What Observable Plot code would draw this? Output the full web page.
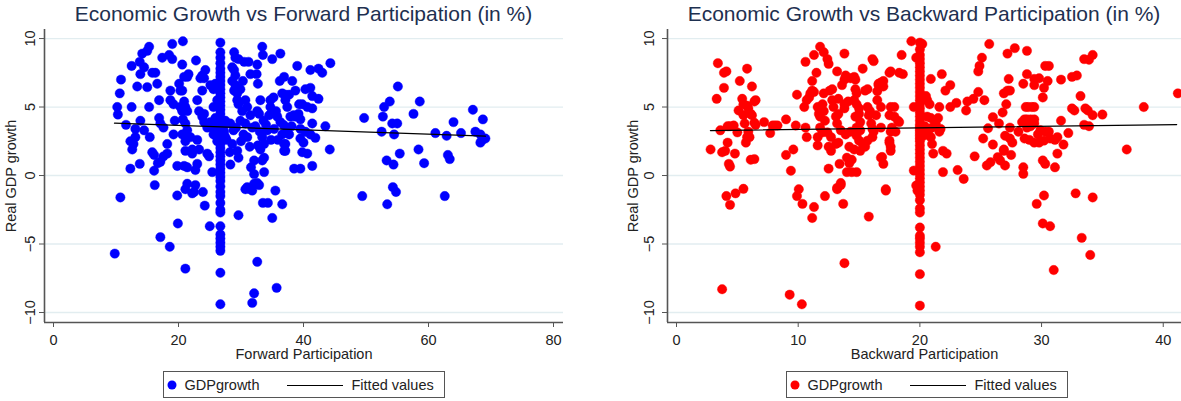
<!DOCTYPE html>
<html><head><meta charset="utf-8">
<script src="https://cdn.jsdelivr.net/npm/d3@7"></script>
<script src="https://cdn.jsdelivr.net/npm/@observablehq/plot@0.6"></script>
<style>
body{margin:0;background:#fff;font-family:"Liberation Sans",Arial,sans-serif;}
#root{position:relative;width:1181px;height:401px;overflow:hidden;background:#fff;}
.panel{position:absolute;top:0;height:401px;}
.panel svg{position:absolute;left:0;top:0;}
.title{position:absolute;top:4px;font-size:21px;line-height:20px;color:#1e3050;white-space:nowrap;transform:translateX(-50%);}
.legend{position:absolute;top:371px;width:282px;height:27px;border:1.5px solid #555;box-sizing:border-box;background:#fff;font-size:14.5px;color:#222;}
.legend .dot{position:absolute;top:50%;width:9px;height:9px;border-radius:50%;transform:translate(-50%,-50%);}
.legend .lab{position:absolute;top:50%;transform:translateY(-50%);white-space:nowrap;line-height:16px;}
.legend .ln{position:absolute;top:50%;height:0;border-top:1.3px solid #000;}
</style>
</head><body><div id="root"></div>
<script>
// ---------- data ----------
const growthTicks = [-10, -5, 0, 5, 10];
const forwardTicks = [0, 20, 40, 60, 80];
const backwardTicks = [0, 10, 20, 30, 40];
const growthDomain = [-10.73, 10.66];
const forwardDomain = [-1.44, 81.6];
const backwardDomain = [-0.74, 41.5];

const forwardTitle = "Economic Growth vs Forward Participation (in %)";
const backwardTitle = "Economic Growth vs Backward Participation (in %)";
const yTitle = "Real GDP growth";
const forwardLabel = "Forward Participation";
const backwardLabel = "Backward Participation";
const legendLabels = ["GDPgrowth", "Fitted values"];

// forward participation (x) vs GDP growth (y)
const forwardPoints = [
[10.2,5.0],[10.3,4.45],[10.8,7.0],[10.6,6.0],[11.6,3.7],[12.5,8.0],[12.5,5.0],[12.3,2.5],[12.8,2.3],[13.1,2.8],[12.6,1.9],[12.3,0.5],
[13.4,6.5],[13.8,8.3],[14.2,8.9],[15.0,9.1],[15.3,9.4],[13.9,7.4],[14.5,7.9],[13.1,3.4],[13.9,4.0],[14.5,3.3],[13.8,0.85],[15.0,6.45],
[15.3,5.0],[15.4,2.8],[15.8,7.5],[16.3,7.5],[16.1,1.5],[15.8,1.7],[16.1,0.35],[16.2,-0.7],[16.6,6.7],[16.9,5.5],[16.9,4.2],[17.1,3.8],
[17.4,8.6],[17.6,3.5],[16.7,0.9],[17.1,1.0],[17.6,1.4],[18.2,1.6],[18.2,2.3],[18.5,8.8],[19.0,8.5],[18.7,6.2],[19.0,9.6],[18.7,5.5],
[19.2,5.2],[19.2,3.0],[19.4,4.0],[19.8,0.7],[20.1,6.7],[20.3,6.2],[20.6,6.2],[20.3,5.0],[20.6,4.7],[20.7,9.8],[20.6,8.1],[20.9,7.2],
[21.4,7.2],[21.6,7.4],[20.9,5.4],[21.1,5.0],[21.4,4.7],[20.7,4.1],[21.1,3.8],[21.4,3.3],[20.6,3.0],[21.1,2.5],[21.1,1.8],[20.9,0.7],
[21.4,0.6],[21.4,-0.6],[21.9,2.8],[22.2,1.9],[22.7,0.4],[22.2,1.6],[22.7,-0.7],[22.5,-1.2],[22.8,8.4],[23.0,5.5],[23.3,4.7],[23.0,2.6],
[23.3,1.9],[23.0,0.85],[23.5,7.1],[23.8,7.3],[24.1,7.1],[24.3,7.7],[23.8,6.2],[23.8,4.3],[24.1,4.5],[24.1,3.9],[24.6,3.5],[25.1,3.9],
[24.6,1.6],[24.9,1.4],[25.4,3.5],[25.6,3.0],[25.9,4.2],[25.6,5.0],[26.2,5.5],[25.4,0.25],[25.6,6.3],[25.9,6.7],[25.1,6.6],
[26.7,9.7],[26.7,9.0],[26.7,8.6],[26.7,8.2],[26.7,7.8],[26.7,7.5],[26.7,7.2],[26.7,6.9],[26.7,6.6],[26.7,6.3],[26.7,6.0],[26.7,5.7],
[26.7,5.4],[26.7,5.1],[26.7,4.8],[26.7,4.5],[26.7,4.2],[26.7,3.9],[26.7,3.6],[26.7,3.4],[26.7,3.2],[26.7,3.0],[26.7,2.8],[26.7,2.6],
[26.7,2.3],[26.7,2.0],[26.7,1.7],[26.7,1.4],[26.7,1.1],[26.7,0.8],[26.7,0.5],[26.7,0.2],[26.7,-0.1],[26.7,-0.4],[26.7,-0.8],[26.7,-1.2],
[26.7,-1.5],[26.7,-2.0],[26.7,-2.5],[26.7,-2.7],[26.7,-3.7],[26.7,-4.3],[26.7,-4.6],[26.7,-4.9],[26.7,-5.2],[26.7,-5.5],[26.7,-7.1],[26.7,-9.4],
[25.8,3.3],[26.0,2.9],[27.3,3.2],[27.5,2.8],[27.2,3.6],[26.2,2.5],[27.7,2.6],[25.9,3.8],[27.5,4.0],
[28.3,3.8],[28.8,3.3],[28.6,2.3],[28.2,1.7],[28.3,0.8],[28.9,9.0],[29.1,8.6],[29.6,8.5],[28.6,7.9],[28.9,7.7],[29.1,7.3],[28.6,6.9],
[29.1,6.6],[28.9,6.2],[29.4,6.0],[29.4,5.5],[29.6,5.2],[30.2,4.7],[29.4,1.8],[29.6,1.3],[29.9,6.3],[30.3,6.9],[30.5,8.3],[31.2,8.3],
[30.7,5.5],[31.0,5.0],[29.9,4.0],[30.7,3.8],[31.0,2.8],[31.4,2.1],[31.5,7.4],[31.0,-0.85],[30.7,-1.0],[31.6,0.6],[32.1,0.1],[32.1,1.1],
[32.1,-0.6],[32.6,-0.55],[32.9,-0.7],[32.6,8.1],[32.7,6.7],[32.5,7.4],[32.6,4.7],[32.9,4.5],[33.1,5.5],[33.4,9.4],[33.5,8.8],[33.4,2.8],
[33.7,2.3],[33.1,1.9],[33.4,1.1],[33.7,1.3],[33.7,0.25],[34.2,3.3],[34.5,4.4],[34.7,5.0],[34.7,5.5],[35.2,5.7],[35.0,8.5],[35.5,-1.1],
[35.8,4.3],[36.3,3.9],[36.2,6.9],[36.3,8.9],[36.6,6.0],[36.9,7.2],[36.6,3.0],[36.9,2.3],[37.1,1.8],[37.1,5.5],[37.4,5.0],[37.4,3.5],
[37.9,4.3],[38.2,6.9],[38.7,6.2],[38.4,4.4],[39.0,8.0],[39.3,5.2],[38.5,0.5],[39.5,0.5],
[32.3,3.6],[33.0,3.2],[34.0,3.7],[35.3,3.4],[35.9,2.6],[36.8,3.7],[37.7,3.0],[38.1,3.6],[33.6,4.0],[31.8,3.5],[30.4,3.0],[29.2,3.5],
[30.0,2.5],[31.5,4.4],[34.8,2.6],[35.6,4.7],[32.7,2.2],
[41.1,7.7],[42.4,7.8],[43.0,7.5],[44.3,8.2],[40.3,6.3],[41.1,6.4],[37.1,5.9],[37.7,5.9],[41.4,5.8],[42.4,5.6],[39.8,5.2],[40.6,5.0],
[41.4,4.9],[38.7,4.3],[39.2,4.5],[39.5,4.1],[41.4,3.8],[43.5,3.6],[39.5,3.4],[40.3,3.2],[41.1,3.0],[41.9,2.75],[37.1,2.3],[36.9,1.8],
[39.5,2.7],[40.0,2.4],[39.8,1.7],[40.6,1.6],[44.2,1.9],[41.4,0.7],
[49.7,4.2],[52.9,5.0],[53.8,5.4],[52.7,4.3],[55.1,6.5],[54.2,3.8],[55.0,3.8],[52.5,3.2],[54.5,3.0],[55.4,1.6],[53.3,1.1],[54.4,0.8],
[58.6,5.4],[57.6,4.5],[58.4,1.9],[59.3,0.9],[61.1,3.1],[62.9,2.9],[63.1,1.5],[63.4,1.2],[64.0,3.9],[65.2,3.1],[67.1,4.8],[68.7,4.1],
[67.5,3.2],[68.3,3.0],[68.6,2.6],[69.1,2.7],[68.3,2.4],[49.4,-1.5],[54.3,-0.85],[54.8,-1.2],[62.6,-1.5],[53.4,-2.1],
[10.7,-1.6],[24.2,-2.2],[29.6,-2.9],[33.5,-2.0],[34.3,-2.0],[36.6,-2.1],[35.0,-3.1],[19.9,-3.5],[25.0,-3.7],[17.1,-4.5],[18.6,-5.2],
[9.8,-5.7],[32.6,-6.3],[21.1,-6.8],[32.1,-8.6],[35.7,-8.2],[31.8,-9.3],[19.8,-1.46],[21.1,-1.0],[22.2,-1.3],[23.9,-1.2],[31.3,-0.97],[31.8,-1.1]
];

// backward participation (x) vs GDP growth (y)
const backwardPoints = [
[2.8,1.9],[3.3,5.6],[3.4,8.2],[3.6,3.3],[3.75,1.7],[4.0,1.8],[3.9,6.4],[3.9,7.5],[4.1,7.6],[4.2,3.6],[4.4,3.6],[4.2,2.4],[4.3,0.85],
[4.4,0.65],[4.7,3.65],[4.8,1.6],[5.0,3.15],[5.1,4.75],[5.2,6.9],[5.4,5.6],[5.5,5.2],[5.5,4.4],[5.6,3.8],[5.8,7.8],[6.2,6.5],[5.8,5.1],
[5.9,4.9],[6.1,4.5],[6.2,4.4],[5.7,2.4],[5.8,2.8],[6.0,2.8],[5.9,3.2],[6.1,1.15],[6.4,1.2],[6.5,5.5],[6.4,5.4],[6.5,3.7],[6.4,3.85],
[7.2,3.9],[7.7,3.1],[7.9,3.65],[8.1,3.65],[8.3,3.65],[9.0,4.1],[9.0,1.5],[9.4,0.35],[9.6,1.9],[9.9,5.9],[9.8,3.65],[10.05,-1.0],
[10.5,5.0],[10.6,8.3],[10.7,2.8],[10.6,3.5],[10.7,5.5],[10.9,5.7],[11.0,6.0],[11.15,6.2],[11.3,6.1],[11.15,6.9],[11.3,8.8],[11.5,7.5],
[11.6,5.0],[11.7,4.5],[11.8,4.3],[11.8,3.5],[12.0,3.15],[11.6,2.2],[11.8,9.4],[12.1,9.0],[11.6,2.8],[12.0,5.2],[12.1,4.7],[12.1,6.0],
[12.2,4.0],[12.4,3.15],[12.7,2.8],[12.5,2.1],[12.7,1.8],[12.5,0.5],[12.4,8.5],[12.5,8.15],[12.6,6.2],[12.8,6.3],[12.8,5.5],[12.9,5.0],
[13.1,4.3],[13.3,4.5],[13.2,3.8],[13.1,2.3],[13.3,2.4],[13.2,7.6],[13.3,5.6],[13.2,-0.9],[13.5,-0.7],[13.5,-0.55],[13.2,-1.0],[13.6,6.6],
[13.8,7.0],[13.9,7.3],[13.8,8.9],[13.8,5.2],[14.1,5.4],[13.8,4.9],[13.5,3.3],[13.9,3.0],[14.3,3.2],[14.0,1.3],[14.2,0.9],[14.4,1.15],
[13.4,0.85],[14.0,0.25],[14.4,0.25],[14.8,0.25],[14.2,2.1],[14.6,1.9],[14.3,7.1],[14.6,7.2],[14.7,7.0],[14.7,6.3],[14.8,6.0],[14.6,5.5],
[14.8,5.2],[15.0,4.9],[14.7,4.3],[15.0,4.5],[15.1,3.9],[14.8,3.5],[15.1,3.3],[14.8,2.9],[15.0,2.55],[15.3,2.3],[15.1,1.8],[15.5,2.1],
[15.7,2.55],[15.3,7.8],[15.5,6.2],[15.7,6.3],[15.7,5.0],[15.9,4.7],[15.8,4.4],[16.1,8.5],[16.2,8.35],[16.0,3.8],[16.1,3.4],[16.1,2.8],
[16.2,3.2],[16.4,4.4],[16.5,5.5],[16.6,6.6],[16.8,6.8],[16.5,6.15],[16.6,6.7],[16.8,5.0],[16.8,3.5],[16.9,1.35],[17.0,6.9],[17.0,6.5],
[17.2,-1.0],[17.5,2.55],[17.6,2.1],[17.5,7.5],[17.6,5.0],[17.5,4.4],
[4.4,-2.14],[3.75,-8.3],[10.35,-2.07],[11.3,-2.3],[11.15,-3.1],[13.7,-2.07],[15.8,-3.0],[13.8,-6.4],[9.3,-8.7],[10.3,-9.4],[4.1,-1.5],
[4.85,-1.3],[5.5,-0.97],[9.9,-1.5],[12.2,-1.5],
[19.3,9.8],[20.2,9.6],[18.5,8.8],[19.7,8.6],[17.6,7.6],[18.3,7.5],[18.6,7.4],[17.9,5.0],[17.9,4.3],[18.2,4.0],[18.3,3.9],[17.7,3.5],
[17.6,3.2],[18.0,3.2],[17.5,2.4],[17.6,1.8],[16.8,1.3],[17.0,0.85],[17.2,-1.1],[19.5,5.0],[19.5,0.36],[19.7,-0.73],[19.8,-1.1],[20.9,7.05],
[21.8,7.4],[20.5,5.8],[20.6,5.5],[20.8,5.2],[21.6,5.0],[20.6,4.3],[20.9,4.2],[21.2,4.0],[21.5,4.2],[21.3,3.8],[21.0,3.5],[21.7,3.4],
[21.6,3.2],[20.7,3.0],[20.9,2.8],[21.0,2.3],[21.1,1.6],[21.9,1.8],[22.2,1.6],[21.9,0.25],[22.1,6.2],[22.5,6.6],[22.5,5.0],[23.0,5.3],
[23.1,0.4],[23.6,-0.25],[23.8,4.75],[23.9,5.4],[24.4,5.6],[24.8,6.1],[24.5,1.4],[24.8,7.6],[24.9,8.0],[25.1,8.6],[25.7,9.6],[25.3,5.5],
[25.2,2.7],[25.6,3.45],[25.5,0.73],[25.8,0.97],[26.0,2.26],[26.0,4.26],[26.4,1.34],[26.6,1.1],[26.5,3.8],[26.8,4.6],[26.9,1.8],[27.0,0.73],
[26.9,6.0],[27.2,6.2],[27.4,6.2],[27.3,7.05],[27.2,8.9],[27.8,9.3],[27.1,5.2],[27.4,3.5],[27.0,2.9],[27.4,2.7],[27.6,2.4],[27.5,1.5],
[26.9,1.9],[28.1,3.2],[28.5,0.6],[28.5,0.12],[28.5,6.7],[28.8,7.4],[28.8,9.1],[28.7,5.0],[28.9,5.0],[29.2,5.0],[29.4,5.0],[28.6,4.1],
[28.8,4.1],[29.1,4.1],[29.4,4.1],[28.4,3.9],[28.8,3.5],[29.1,3.6],[29.4,3.8],[28.6,2.7],[29.0,2.6],[29.4,2.4],[29.8,2.4],[30.2,2.55],
[29.4,7.05],[29.4,6.6],[29.8,7.1],[30.5,6.9],[30.3,8.0],[30.6,8.0],[30.2,6.4],[30.1,5.7],[29.7,3.0],[29.9,3.3],[30.3,3.2],[30.6,3.2],
[30.7,2.7],[30.1,1.1],[30.3,0.85],[31.1,0.6],[31.3,2.8],[31.1,2.6],[31.3,1.6],[31.6,7.0],[31.6,4.0],[31.8,2.26],[32.2,3.1],[32.5,7.2],
[32.9,7.3],[32.5,4.9],[32.7,4.75],[33.2,5.8],[33.5,8.5],[33.9,8.45],[34.2,8.8],[33.6,4.9],[33.8,4.75],[33.5,3.7],[33.9,3.6],[34.2,4.4],
[35.0,4.45],[37.0,1.9],[38.4,5.0],[41.2,6.0],[30.2,-1.46],[32.8,-1.3],[34.2,-1.6],
[29.6,-2.07],[30.1,-3.5],[30.7,-3.7],[33.3,-4.55],[34.0,-5.8],[31.0,-6.9],[21.3,-5.2],
[20.0,9.7],[20.0,9.2],[20.0,8.8],[20.0,8.5],[20.0,8.2],[20.0,7.9],[20.0,7.6],[20.0,7.3],[20.0,7.0],[20.0,6.7],[20.0,6.4],[20.0,6.1],
[20.0,5.8],[20.0,5.5],[20.0,5.2],[20.0,4.9],[20.0,4.6],[20.0,4.3],[20.0,4.0],[20.0,3.7],[20.0,3.5],[20.0,3.3],[20.0,3.1],[20.0,2.9],
[20.0,2.7],[20.0,2.5],[20.0,2.2],[20.0,1.9],[20.0,1.6],[20.0,1.3],[20.0,1.0],[20.0,0.7],[20.0,0.4],[20.0,0.1],[20.0,-0.2],[20.0,-0.5],
[20.0,-0.8],[20.0,-1.1],[20.0,-1.4],[20.0,-1.8],[20.0,-2.4],[20.0,-2.7],[20.0,-3.8],[20.0,-4.4],[20.0,-4.6],[20.0,-4.9],[20.0,-5.2],
[20.0,-5.6],[20.0,-7.2],[20.0,-9.5],[20.4,3.6],[20.6,3.3],[20.3,2.9]
];

// fitted values (linear fit endpoints)
const forwardFit = [[9.76, 3.82], [69.1, 2.87]];
const backwardFit = [[2.79, 3.28], [41.1, 3.72]];

// ---------- drawing ----------
const FONT = "Liberation Sans, Arial, sans-serif";
function makePanel(cfg) {
  const plot = Plot.plot({
    width: cfg.width, height: 365,
    marginLeft: cfg.mL, marginRight: cfg.mR, marginTop: 29, marginBottom: 43,
    style: {fontFamily: FONT, fontSize: "14.5px", color: "#222", background: "transparent", overflow: "visible"},
    x: {domain: cfg.xDomain},
    y: {domain: growthDomain},
    marks: [
      Plot.gridY({ticks: growthTicks, stroke: "#e2edf0", strokeOpacity: 1, strokeWidth: 1.3}),
      Plot.dot(cfg.points, {x: d => d[0], y: d => d[1], r: 4.7, fill: cfg.color, stroke: cfg.color, strokeWidth: 0.4}),
      Plot.line(cfg.fit, {x: d => d[0], y: d => d[1], stroke: "#000", strokeWidth: 1.3}),
      Plot.ruleX([cfg.xDomain[0]], {stroke: "#555", strokeWidth: 1.6}),
      Plot.ruleY([growthDomain[0]], {stroke: "#555", strokeWidth: 1.6}),
      Plot.axisX({ticks: cfg.xTicks, tickSize: 5, tickPadding: 7, stroke: "#555", fill: "#222", label: null, fontSize: 14.5}),
      Plot.axisY({ticks: growthTicks, tickSize: 5, tickPadding: cfg.yPad, tickRotate: -90, stroke: "#555", fill: "#222", label: null, fontSize: 14.5}),
      Plot.text([yTitle], {text: d => d, frameAnchor: "left", rotate: -90, dx: cfg.yTitleDx, textAnchor: "middle", lineAnchor: "middle", fill: "#222", fontSize: 14.5}),
      Plot.text([cfg.xLabel], {text: d => d, frameAnchor: "bottom", dy: 32, textAnchor: "middle", lineAnchor: "middle", fill: "#222", fontSize: 14.5})
    ]
  });
  const div = document.createElement("div");
  div.className = "panel";
  div.style.left = cfg.left + "px";
  div.style.width = cfg.width + "px";
  div.appendChild(plot);
  const t = document.createElement("div");
  t.className = "title";
  t.textContent = cfg.title;
  t.style.left = cfg.titleX + "px";
  div.appendChild(t);
  const lg = document.createElement("div");
  lg.className = "legend";
  lg.style.left = cfg.legendX + "px";
  lg.innerHTML =
    `<span class="dot" style="left:8px;background:${cfg.color}"></span>` +
    `<span class="lab" style="left:20.5px">${legendLabels[0]}</span>` +
    `<span class="ln" style="left:122.5px;width:56px"></span>` +
    `<span class="lab" style="left:187.5px">${legendLabels[1]}</span>`;
  div.appendChild(lg);
  document.getElementById("root").appendChild(div);
}

makePanel({left: 0, width: 590, mL: 44, mR: 27, xDomain: forwardDomain, xTicks: forwardTicks,
  points: forwardPoints, fit: forwardFit, color: "#0000ff", xLabel: forwardLabel, title: forwardTitle,
  titleX: 303.5, legendX: 163, yPad: 5, yTitleDx: -33});
makePanel({left: 590, width: 591, mL: 77, mR: 0, xDomain: backwardDomain, xTicks: backwardTicks,
  points: backwardPoints, fit: backwardFit, color: "#ff0000", xLabel: backwardLabel, title: backwardTitle,
  titleX: 334, legendX: 196, yPad: 9, yTitleDx: -34});
</script></body></html>
